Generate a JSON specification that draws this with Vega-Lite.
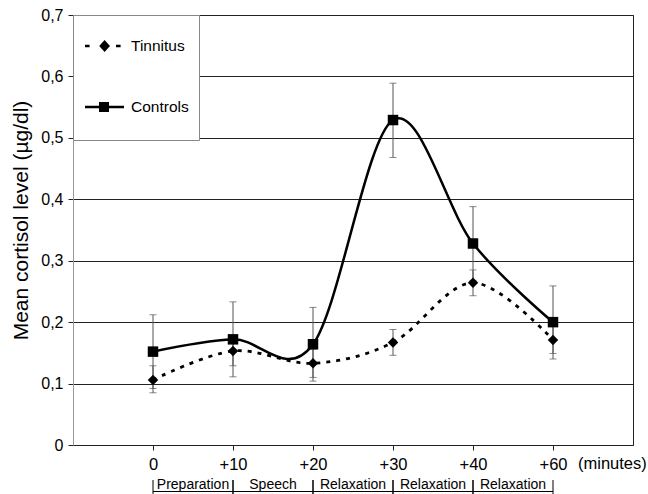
{
  "$schema": "https://vega.github.io/schema/vega-lite/v6.json",
  "width": 560,
  "height": 430,
  "autosize": "none",
  "padding": {"left": 73, "top": 15, "right": 15, "bottom": 49},
  "background": "white",
  "config": {
    "font": "Liberation Sans",
    "view": {"stroke": "#222", "strokeWidth": 1},
    "axis": {"labelFont": "Liberation Sans", "titleFont": "Liberation Sans", "labelColor": "black", "titleColor": "black", "titleFontWeight": "normal"}
  },
  "resolve": {"scale": {"shape": "independent"}},
  "datasets": {
    "cortisol": [
      {"series": "Controls", "step": 1, "mean": 0.152, "lo": 0.092, "hi": 0.212},
      {"series": "Controls", "step": 2, "mean": 0.172, "lo": 0.111, "hi": 0.233},
      {"series": "Controls", "step": 3, "mean": 0.164, "lo": 0.104, "hi": 0.224},
      {"series": "Controls", "step": 4, "mean": 0.529, "lo": 0.468, "hi": 0.589},
      {"series": "Controls", "step": 5, "mean": 0.328, "lo": 0.268, "hi": 0.388},
      {"series": "Controls", "step": 6, "mean": 0.200, "lo": 0.140, "hi": 0.259},
      {"series": "Tinnitus", "step": 1, "mean": 0.106, "lo": 0.085, "hi": 0.129},
      {"series": "Tinnitus", "step": 2, "mean": 0.153, "lo": 0.129, "hi": 0.177},
      {"series": "Tinnitus", "step": 3, "mean": 0.133, "lo": 0.110, "hi": 0.156},
      {"series": "Tinnitus", "step": 4, "mean": 0.167, "lo": 0.146, "hi": 0.188},
      {"series": "Tinnitus", "step": 5, "mean": 0.264, "lo": 0.243, "hi": 0.285},
      {"series": "Tinnitus", "step": 6, "mean": 0.171, "lo": 0.149, "hi": 0.193}
    ],
    "phases": [
      {"phase": "Preparation", "start": 1, "end": 2, "mid": 1.5},
      {"phase": "Speech", "start": 2, "end": 3, "mid": 2.5},
      {"phase": "Relaxation", "start": 3, "end": 4, "mid": 3.5},
      {"phase": "Relaxation", "start": 4, "end": 5, "mid": 4.5},
      {"phase": "Relaxation", "start": 5, "end": 6, "mid": 5.5}
    ]
  },
  "layer": [
    {
      "data": {"name": "cortisol"},
      "mark": {"type": "rule", "color": "#555", "strokeWidth": 1},
      "encoding": {
        "x": {"field": "step", "type": "quantitative", "scale": {"domain": [0, 7], "nice": false},
          "axis": {"values": [1, 2, 3, 4, 5, 6], "title": null, "grid": false,
            "labelExpr": "['','0','+10','+20','+30','+40','+60'][datum.value]",
            "labelFontSize": 16.5, "labelPadding": 6, "tickSize": 5, "tickColor": "#222", "domainColor": "#222"}},
        "y": {"field": "lo", "type": "quantitative", "scale": {"domain": [0, 0.7], "nice": false},
          "axis": {"values": [0, 0.1, 0.2, 0.3, 0.4, 0.5, 0.6, 0.7], "title": "Mean cortisol level (µg/dl)",
            "labelExpr": "datum.value == 0 ? '0' : replace(format(datum.value, '.1f'), '.', ',')",
            "labelFontSize": 16, "labelPadding": 5, "tickSize": 5, "tickColor": "#222",
            "grid": true, "gridColor": "#222", "gridOpacity": 1, "domainColor": "#999",
            "titleFontSize": 21, "titlePadding": 9, "titleY": 205}},
        "y2": {"field": "hi"}
      }
    },
    {
      "data": {"name": "cortisol"},
      "mark": {"type": "tick", "color": "#555", "size": 7, "thickness": 1, "orient": "horizontal"},
      "encoding": {"x": {"field": "step", "type": "quantitative"}, "y": {"field": "lo", "type": "quantitative"}}
    },
    {
      "data": {"name": "cortisol"},
      "mark": {"type": "tick", "color": "#555", "size": 7, "thickness": 1, "orient": "horizontal"},
      "encoding": {"x": {"field": "step", "type": "quantitative"}, "y": {"field": "hi", "type": "quantitative"}}
    },
    {
      "data": {"name": "cortisol"},
      "transform": [{"filter": "datum.series == 'Tinnitus'"}],
      "mark": {"type": "line", "color": "black", "strokeWidth": 2.8, "strokeDash": [4, 6], "interpolate": "cardinal"},
      "encoding": {"x": {"field": "step", "type": "quantitative"}, "y": {"field": "mean", "type": "quantitative"}}
    },
    {
      "data": {"name": "cortisol"},
      "transform": [{"filter": "datum.series == 'Controls'"}],
      "mark": {"type": "line", "color": "black", "strokeWidth": 2.5, "interpolate": "cardinal"},
      "encoding": {"x": {"field": "step", "type": "quantitative"}, "y": {"field": "mean", "type": "quantitative"}}
    },
    {
      "data": {"name": "cortisol"},
      "mark": {"type": "point", "filled": true, "color": "black", "opacity": 1, "size": 110},
      "encoding": {
        "x": {"field": "step", "type": "quantitative"},
        "y": {"field": "mean", "type": "quantitative"},
        "shape": {"field": "series", "type": "nominal",
          "scale": {"domain": ["Tinnitus", "Controls"], "range": ["diamond", "square"]},
          "legend": null}
      }
    },
    {
      "data": {"name": "cortisol"},
      "mark": {"type": "point", "filled": true, "color": "black", "opacity": 0, "size": 10},
      "encoding": {
        "x": {"field": "step", "type": "quantitative"},
        "y": {"field": "mean", "type": "quantitative"},
        "shape": {"field": "series", "type": "nominal",
          "scale": {"domain": ["Tinnitus", "Controls"], "range": [
            "M0,-1V1M-0.95,-0.06H-0.72V0.06H-0.95ZM0.6,-0.06H0.83V0.06H0.6ZM0.03,-0.3L0.3,0L0.03,0.3L-0.24,0Z",
            "M0,-1V1M-0.95,-0.06H1V0.06H-0.95ZM-0.25,-0.25H0.25V0.25H-0.25Z"]},
          "legend": {
            "title": null, "orient": "top-left", "offset": 0, "padding": 10, "rowPadding": 15,
            "symbolSize": 1600, "labelFontSize": 15.5, "labelOffset": 6, "labelFont": "Liberation Sans", "labelColor": "black",
            "strokeColor": "#888", "fillColor": "white", "cornerRadius": 0,
            "symbolFillColor": "black", "symbolOpacity": 1
          }}
      }
    },
    {
      "data": {"name": "phases"},
      "mark": {"type": "text", "fontSize": 14, "font": "Liberation Sans", "baseline": "alphabetic", "align": "center", "color": "black"},
      "encoding": {"x": {"field": "mid", "type": "quantitative"}, "y": {"datum": -0.0715}, "text": {"field": "phase"}}
    },
    {
      "data": {"name": "phases"},
      "mark": {"type": "rule", "color": "black", "strokeWidth": 1},
      "encoding": {"x": {"field": "start", "type": "quantitative"}, "x2": {"field": "end"}, "y": {"datum": -0.0757}}
    },
    {
      "data": {"name": "phases"},
      "mark": {"type": "rule", "color": "black", "strokeWidth": 1},
      "encoding": {"x": {"field": "start", "type": "quantitative"}, "y": {"datum": -0.057}, "y2": {"datum": -0.0798}}
    },
    {
      "data": {"name": "phases"},
      "mark": {"type": "rule", "color": "black", "strokeWidth": 1},
      "encoding": {"x": {"field": "end", "type": "quantitative"}, "y": {"datum": -0.057}, "y2": {"datum": -0.0798}}
    },
    {
      "data": {"values": [{"unit": "(minutes)"}]},
      "mark": {"type": "text", "fontSize": 16.5, "font": "Liberation Sans", "align": "left", "baseline": "top", "dx": 25, "dy": 11, "color": "black"},
      "encoding": {"x": {"datum": 6}, "y": {"datum": 0}, "text": {"field": "unit"}}
    }
  ]
}
